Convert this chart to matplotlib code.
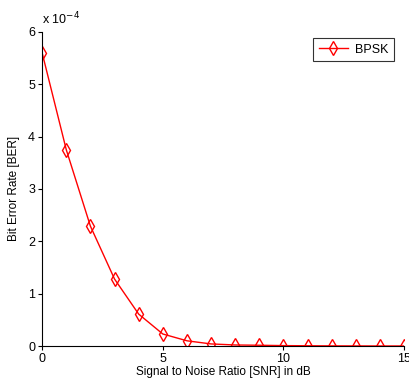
import matplotlib
matplotlib.use("Agg")
import matplotlib.pyplot as plt

snr_db = list(range(16))
ber = [5.60, 3.75, 2.29, 1.28, 0.61, 0.23, 0.10, 0.04, 0.02, 0.015, 0.008, 0.005, 0.003, 0.002, 0.001, 0.001]
ber = [v * 1e-4 for v in ber]
x_ticks = [0, 5, 10, 15]
y_ticks = [0, 1, 2, 3, 4, 5, 6]

plt.rcParams['font.family'] = ['Liberation Sans', 'DejaVu Sans']
fig = plt.figure(figsize=(4.09, 3.79), dpi=100)
ax = fig.add_axes([0.103, 0.087, 0.885, 0.829])
ax.plot(snr_db, ber, color='red', lw=1, marker='d', markersize=7,
        markerfacecolor='none', markeredgecolor='red', markeredgewidth=1, label='BPSK')
ax.set_xlim(0, 15)
ax.set_ylim(0, 6e-4)
ax.set_xticks(x_ticks)
ax.set_yticks([t * 1e-4 for t in y_ticks])
ax.set_yticklabels([str(t) for t in y_ticks])
ax.tick_params(direction='out', length=3, labelsize=9, width=0.8, pad=2)
for s in ['top', 'right']:
    ax.spines[s].set_visible(False)
ax.set_xlabel('Signal to Noise Ratio [SNR] in dB', fontsize=8.5, labelpad=1)
ax.set_ylabel('Bit Error Rate [BER]', fontsize=8.5, labelpad=6)
ax.text(0.0, 1.015, r'x 10$^{-4}$', transform=ax.transAxes, fontsize=9, ha='left', va='bottom')
leg = ax.legend(loc='upper right', fontsize=9, frameon=True, fancybox=False,
                edgecolor='black', handlelength=2.3, handletextpad=0.6, borderpad=0.45,
                bbox_to_anchor=(0.99, 1.0))
leg.get_frame().set_linewidth(0.8)
fig.savefig('out.png', dpi=100)
